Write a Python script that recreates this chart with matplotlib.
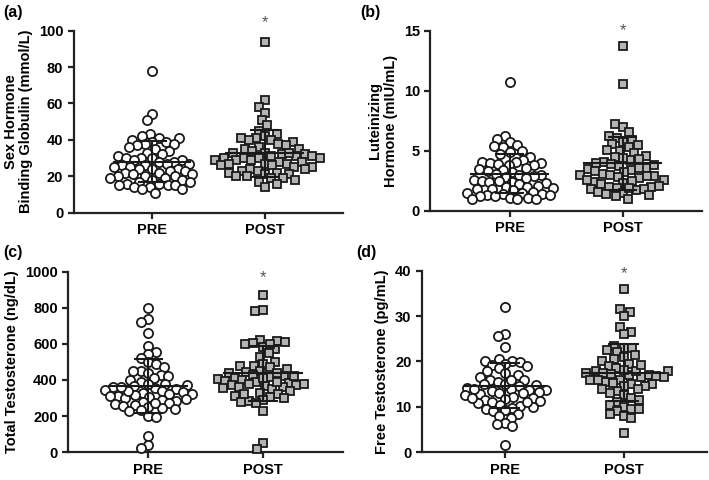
import numpy as np
import matplotlib
matplotlib.use("Agg")
import matplotlib.pyplot as plt

plt.rcParams['font.family'] = ['Liberation Sans', 'DejaVu Sans']
plt.rcParams['font.weight'] = 'bold'

groups = ["PRE", "POST"]

shbg_pre = [78, 54, 51, 43, 42, 41, 41, 40, 39, 39, 38, 38, 37, 36, 35, 34, 33, 32, 31, 30, 30, 30, 29, 29,
            28, 28, 27, 27, 26, 26, 25, 25, 24, 24, 24, 23, 23, 22, 22, 21, 21, 20, 20, 20, 19, 19, 18, 18,
            17, 17, 16, 16, 15, 15, 15, 14, 14, 13, 13, 11]
shbg_post = [94, 62, 58, 55, 51, 48, 45, 43, 42, 41, 41, 40, 40, 39, 38, 37, 36, 35, 35, 34, 33, 33, 32, 32,
             31, 31, 30, 30, 30, 30, 29, 29, 28, 28, 27, 27, 26, 26, 25, 25, 24, 24, 23, 23, 22, 22, 21, 21,
             20, 20, 19, 19, 18, 17, 16, 14, 33, 31, 29, 27]
lh_pre = [10.7, 6.2, 6.0, 5.7, 5.5, 5.4, 5.3, 5.0, 4.9, 4.7, 4.5, 4.2, 4.1, 4.1, 4.0, 4.0, 3.9, 3.8, 3.8, 3.6,
          3.5, 3.4, 3.3, 3.2, 3.1, 3.0, 3.0, 2.9, 2.8, 2.7, 2.6, 2.5, 2.5, 2.4, 2.4, 2.3, 2.2, 2.1, 2.0, 2.0,
          1.9, 1.8, 1.8, 1.7, 1.6, 1.5, 1.5, 1.4, 1.4, 1.3, 1.3, 1.2, 1.2, 1.1, 1.1, 1.0, 1.0, 1.0]
lh_post = [13.7, 10.6, 7.2, 7.0, 6.6, 6.2, 6.1, 5.9, 5.7, 5.6, 5.5, 5.3, 5.1, 5.0, 4.8, 4.6, 4.5, 4.3, 4.2,
           4.1, 4.0, 3.9, 3.8, 3.7, 3.6, 3.5, 3.4, 3.3, 3.2, 3.1, 3.0, 3.0, 2.9, 2.8, 2.7, 2.6, 2.5, 2.4, 2.3,
           2.2, 2.1, 2.0, 2.0, 1.9, 1.8, 1.8, 1.7, 1.6, 1.5, 1.4, 1.3, 1.2, 1.0, 4.4, 3.6, 2.6, 1.9, 2.9]
tt_pre = [800, 740, 720, 660, 590, 555, 545, 520, 500, 490, 470, 450, 450, 440, 430, 420, 410, 400, 390, 380,
          370, 365, 360, 355, 350, 345, 340, 335, 330, 325, 320, 315, 310, 305, 300, 295, 290, 285, 280, 270,
          265, 260, 255, 250, 245, 240, 235, 230, 200, 195, 90, 40, 25, 380, 340, 310, 270, 360]
tt_post = [870, 790, 780, 620, 615, 610, 605, 600, 580, 570, 550, 530, 500, 490, 480, 475, 470, 460, 450, 445,
           440, 430, 420, 415, 410, 405, 400, 395, 390, 385, 380, 375, 370, 365, 360, 355, 350, 340, 330, 320,
           310, 305, 300, 290, 285, 280, 270, 230, 50, 20, 420, 390, 370, 410, 440, 360, 600, 320]
ft_pre = [32, 26, 25.5, 23.2, 20.5, 20.2, 20, 19.8, 19.5, 19.3, 19, 18.5, 18, 17.5, 17, 16.5, 16, 15.8, 15.5,
          15, 14.8, 14.5, 14.2, 14, 13.8, 13.6, 13.4, 13.2, 13, 12.8, 12.5, 12.2, 12, 11.8, 11.5, 11.3, 11,
          10.8, 10.5, 10.2, 10, 9.8, 9.5, 9.2, 9, 8.5, 8, 7.5, 6.5, 6.3, 5.8, 1.5, 14, 15, 13, 12, 16, 11]
ft_post = [36, 31.5, 31, 30, 27.5, 26.5, 26, 23.5, 23, 23, 22.5, 22, 21.5, 21, 20.5, 20, 19.5, 19, 18.5, 18,
           18, 17.5, 17.5, 17, 17, 16.5, 16.5, 16, 16, 15.5, 15, 15, 14.5, 14.5, 14, 14, 13.5, 13, 12.5, 12,
           11.5, 11, 10.5, 10, 9.5, 9.5, 9, 8.5, 8, 7.5, 4.2, 17.8, 16.8, 18.2, 15.2, 19.2, 17.2, 15.8]

# mean and SD (PRE, POST)
shbg_mean = [28.0, 32.6]; shbg_sd = [11.3, 12.8]
lh_mean = [3.1, 3.95]; lh_sd = [1.65, 2.2]
tt_mean = [367, 437]; tt_sd = [149, 152]
ft_mean = [14.65, 17.5]; ft_sd = [4.95, 6.25]

panels = [
    dict(label="(a)", ylabel="Sex Hormone\nBinding Globulin (mmol/L)", pre=shbg_pre, post=shbg_post,
         mean=shbg_mean, sd=shbg_sd, ymax=100, ticks=[0, 20, 40, 60, 80, 100], star=104.5,
         rect=[0.104, 0.557, 0.380, 0.379]),
    dict(label="(b)", ylabel="Luteinizing\nHormone (mIU/mL)", pre=lh_pre, post=lh_post,
         mean=lh_mean, sd=lh_sd, ymax=15, ticks=[0, 5, 10, 15], star=15.0,
         rect=[0.607, 0.561, 0.383, 0.375]),
    dict(label="(c)", ylabel="Total Testosterone (ng/dL)", pre=tt_pre, post=tt_post,
         mean=tt_mean, sd=tt_sd, ymax=1000, ticks=[0, 200, 400, 600, 800, 1000], star=965,
         rect=[0.096, 0.058, 0.388, 0.376]),
    dict(label="(d)", ylabel="Free Testosterone (pg/mL)", pre=ft_pre, post=ft_post,
         mean=ft_mean, sd=ft_sd, ymax=40, ticks=[0, 10, 20, 30, 40], star=39.4,
         rect=[0.595, 0.058, 0.402, 0.378]),
]

W, H, DPI = 7.09, 4.80, 100
fig = plt.figure(figsize=(W, H), dpi=DPI)

MS = 6.6  # marker size in points
diam_px = MS * DPI / 72.0


def swarm(ypix, d):
    """Beeswarm placement (overlap allowed by using d < marker diameter); points are
    placed in a scrambled order so the cloud looks like a scatter rather than columns."""
    n = len(ypix)
    order = sorted(range(n), key=lambda i: (i * 23) % n)
    placed = []
    xs = np.zeros(n)
    for i in order:
        y = ypix[i]
        cands = [0.0]
        for (px, py) in placed:
            dy = abs(py - y)
            if dy < d:
                dx = np.sqrt(d * d - dy * dy)
                cands += [px - dx, px + dx]
        cands.sort(key=abs)
        for c in cands:
            if all((c - px) ** 2 + (y - py) ** 2 >= d * d - 1e-6 for px, py in placed):
                xs[i] = c
                break
        placed.append((xs[i], y))
    return xs


for p in panels:
    ax = fig.add_axes(p["rect"])
    ax.set_xlim(-0.7, 1.7)
    ax.set_ylim(0, p["ymax"])
    for s in ["top", "right"]:
        ax.spines[s].set_visible(False)
    for s in ["left", "bottom"]:
        ax.spines[s].set_linewidth(1.6)
        ax.spines[s].set_color("#222222")
    ax.spines["left"].set_bounds(0, p["ymax"])
    ax.set_yticks(p["ticks"])
    ax.set_xticks([0, 1])
    ax.set_xticklabels(groups, fontsize=10.5, fontweight="bold")
    ax.tick_params(axis="both", width=1.6, length=4, color="#222222", labelsize=10.5)
    for t in ax.get_yticklabels():
        t.set_fontweight("bold")
    ax.set_ylabel(p["ylabel"], fontsize=10.5, fontweight="bold", linespacing=1.15)

    bb = ax.get_window_extent()
    xpx_per_unit = bb.width / (1.7 - (-0.7))
    ypx_per_unit = bb.height / p["ymax"]

    for gi, (vals, marker, fc) in enumerate([(p["pre"], "o", "white"), (p["post"], "s", "#b4b4b4")]):
        v = np.asarray(vals, dtype=float)
        offs = swarm(v * ypx_per_unit, diam_px * 0.85) / xpx_per_unit
        ax.plot(gi + offs, v, linestyle="none", marker=marker, markersize=MS if marker == "o" else MS * 0.92,
                markerfacecolor=fc, markeredgecolor="#1a1a1a", markeredgewidth=1.3, zorder=3, clip_on=False)
        m, sd = p["mean"][gi], p["sd"][gi]
        ax.plot([gi - 0.34, gi + 0.34], [m, m], color="#1a1a1a", lw=1.5, zorder=4)
        ax.plot([gi - 0.12, gi + 0.12], [m + sd, m + sd], color="#1a1a1a", lw=1.5, zorder=4)
        ax.plot([gi - 0.12, gi + 0.12], [m - sd, m - sd], color="#1a1a1a", lw=1.5, zorder=4)
        ax.plot([gi, gi], [m - sd, m + sd], color="#1a1a1a", lw=1.5, zorder=4)

    ax.text(1, p["star"], "*", ha="center", va="center", fontsize=12, color="#555555",
            fontweight="normal", clip_on=False)

fig.text(0.005, 0.975, "(a)", fontsize=11.5, fontweight="bold", va="center")
fig.text(0.508, 0.975, "(b)", fontsize=11.5, fontweight="bold", va="center")
fig.text(0.005, 0.474, "(c)", fontsize=11.5, fontweight="bold", va="center")
fig.text(0.502, 0.474, "(d)", fontsize=11.5, fontweight="bold", va="center")

fig.savefig("out.png", dpi=DPI)
